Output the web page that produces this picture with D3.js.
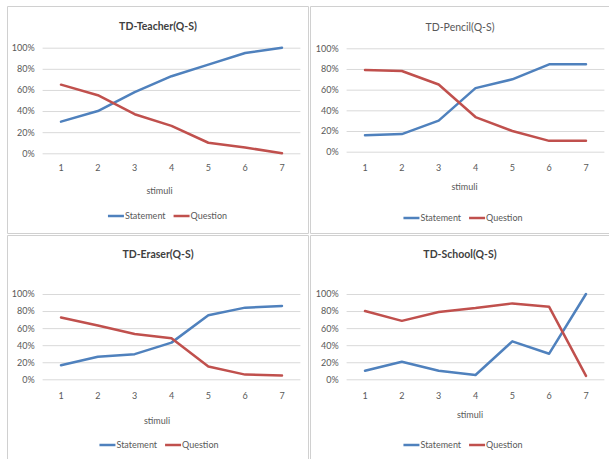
<!DOCTYPE html>
<html>
<head>
<meta charset="utf-8">
<script src="https://cdn.jsdelivr.net/npm/d3@7"></script>
<style>
  html, body { margin: 0; padding: 0; background: #ffffff; }
  svg { display: block; }
  text { font-family: Lato, "Open Sans", sans-serif; }
</style>
</head>
<body>
<svg id="chart" width="609" height="459"></svg>
<script>
// Stimulus numbers along the x axis
const categories = ["1", "2", "3", "4", "5", "6", "7"];
const yTicks = [0, 20, 40, 60, 80, 100];
const seriesNames = ["Statement", "Question"];

// Percentage of responses per stimulus
const teacherStatement = [30, 40, 58, 73, 84, 95, 100];
const teacherQuestion  = [65, 55, 37, 26, 10, 5.5, 0];
const pencilStatement  = [16, 17, 30, 61.5, 70, 84.5, 84.5];
const pencilQuestion   = [79, 78, 65, 33.5, 20, 10.5, 10.5];
const eraserStatement  = [16.5, 26.5, 29.5, 43, 75, 84, 86];
const eraserQuestion   = [72.5, 63, 53, 48, 15, 5.5, 4.5];
const schoolStatement  = [10, 20.5, 10, 5, 44.5, 30, 100];
const schoolQuestion   = [80, 68.5, 79, 83.5, 89, 85, 4];

const titles = ["TD-Teacher(Q-S)", "TD-Pencil(Q-S)", "TD-Eraser(Q-S)", "TD-School(Q-S)"];

const colors = { Statement: "#4f81bd", Question: "#c0504d" };

// Panel geometry: frame, plot area and label positions
const panels = [
  { title: titles[0], bold: true,  s: teacherStatement, q: teacherQuestion,
    frame: [7.5, 6.5, 308.5, 233.5], px: [42.6, 300.4], py: [153.3, 47.7],
    titleY: 26, tickY: 168, stimuliX: 159.5, stimuliY: 191, legendX: 167.5, legendY: 216 },
  { title: titles[1], bold: false, s: pencilStatement, q: pencilQuestion,
    frame: [310.5, 6.5, 609.5, 233.5], px: [346.6, 604.4], py: [151.7, 48.3],
    titleY: 27, tickY: 168, stimuliX: 464.5, stimuliY: 187, legendX: 463, legendY: 218 },
  { title: titles[2], bold: true,  s: eraserStatement, q: eraserQuestion,
    frame: [7.5, 235.5, 308.5, 460], px: [42.6, 300.4], py: [379.3, 294],
    titleY: 254, tickY: 395.7, stimuliX: 157, stimuliY: 420.7, legendX: 159, legendY: 445 },
  { title: titles[3], bold: true,  s: schoolStatement, q: schoolQuestion,
    frame: [310.5, 235.5, 609.5, 460], px: [346.6, 604.4], py: [379.3, 294],
    titleY: 254, tickY: 396, stimuliX: 470, stimuliY: 415, legendX: 463, legendY: 445 }
];

const svg = d3.select("#chart");
const textColor = "#595959";
const gridColor = "#d9d9d9";
const smallFont = 9;

panels.forEach(p => {
  const g = svg.append("g");
  const [x0, y0, x1, y1] = p.frame;

  // frame
  g.append("path")
    .attr("d", `M${x0},${y1} V${y0} H${x1} V${y1}` + (y1 < 459 ? ` H${x0}` : ""))
    .attr("fill", "none").attr("stroke", "#d0d0d0").attr("stroke-width", 1);

  const x = d3.scaleBand().domain(categories).range(p.px).paddingInner(0).paddingOuter(0);
  const y = d3.scaleLinear().domain([0, 100]).range(p.py);

  // horizontal gridlines via the y axis
  const yAxis = d3.axisLeft(y).tickValues(yTicks).tickFormat(d => d + "%")
    .tickSize(-(p.px[1] - p.px[0])).tickPadding(8);
  const ya = g.append("g").attr("transform", `translate(${p.px[0]},0)`).call(yAxis);
  ya.select(".domain").remove();
  ya.selectAll(".tick line").attr("stroke", gridColor).attr("stroke-width", 1);
  ya.selectAll(".tick text").attr("fill", textColor).attr("font-size", smallFont)
    .attr("font-family", "Lato, sans-serif");

  // category labels
  const xAxis = d3.axisBottom(x).tickSize(0).tickPadding(0);
  const xa = g.append("g").attr("transform", `translate(0,${p.tickY})`).call(xAxis);
  xa.select(".domain").remove();
  xa.selectAll(".tick text").attr("fill", textColor).attr("font-size", smallFont)
    .attr("dy", "0.35em").attr("y", 0)
    .attr("font-family", "Lato, sans-serif");

  // title
  g.append("text")
    .attr("x", (x0 + x1) / 2).attr("y", p.titleY).attr("dy", "0.35em")
    .attr("text-anchor", "middle").attr("font-size", 10.5)
    .attr("font-weight", p.bold ? "bold" : "normal")
    .attr("fill", p.bold ? "#404040" : textColor)
    .text(p.title);

  // axis title
  g.append("text")
    .attr("x", p.stimuliX).attr("y", p.stimuliY).attr("dy", "0.35em")
    .attr("text-anchor", "middle").attr("font-size", smallFont).attr("fill", textColor)
    .text("stimuli");

  // series lines
  const line = d3.line()
    .x((d, i) => x(categories[i]) + x.bandwidth() / 2)
    .y(d => y(d));
  [["Statement", p.s], ["Question", p.q]].forEach(([name, vals]) => {
    g.append("path").datum(vals)
      .attr("d", line)
      .attr("fill", "none")
      .attr("stroke", colors[name])
      .attr("stroke-width", 2.5)
      .attr("stroke-linejoin", "round")
      .attr("stroke-linecap", "round");
  });

  // legend
  const lg = g.append("g");
  let cx = 0;
  seriesNames.forEach((name, i) => {
    const item = lg.append("g").attr("transform", `translate(${cx},0)`);
    item.append("line").attr("x1", 0).attr("x2", 16).attr("y1", 0).attr("y2", 0)
      .attr("stroke", colors[name]).attr("stroke-width", 2.5);
    const t = item.append("text").attr("x", 17).attr("dy", "0.35em")
      .attr("font-size", smallFont).attr("fill", textColor).text(name);
    cx += 17 + t.node().getComputedTextLength() + 8;
  });
  const lw = cx - 8;
  lg.attr("transform", `translate(${p.legendX - lw / 2},${p.legendY})`);
});
</script>
</body>
</html>
